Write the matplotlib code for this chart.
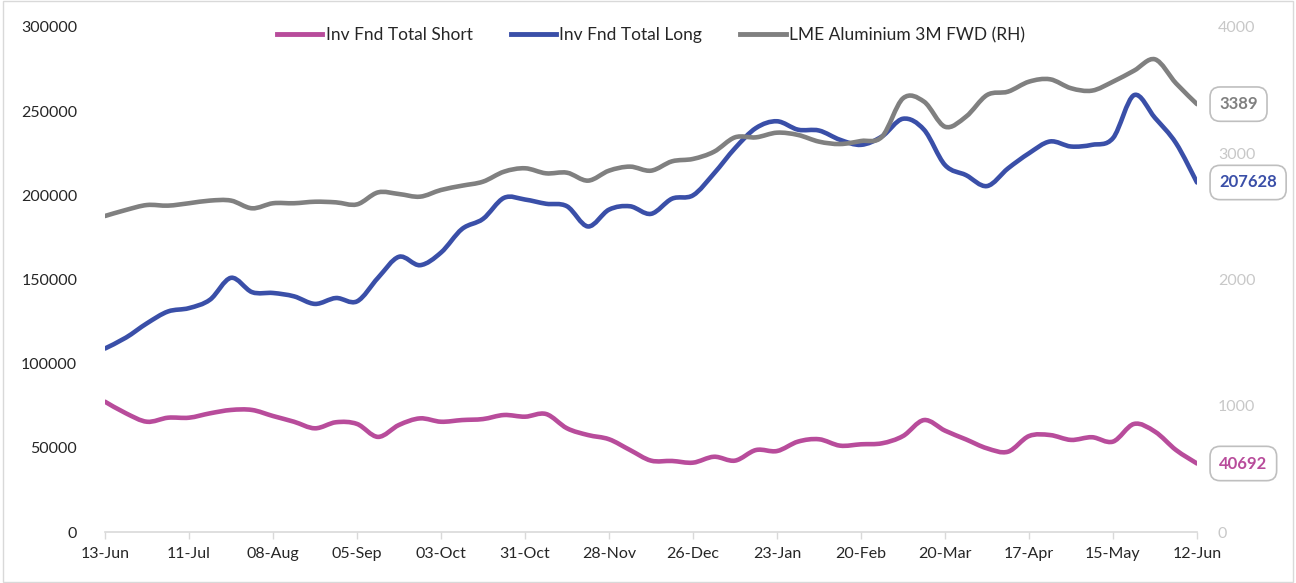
import numpy as np
import matplotlib
matplotlib.use("Agg")
import matplotlib.pyplot as plt
from matplotlib.path import Path
from matplotlib.patches import PathPatch, Rectangle
from matplotlib.lines import Line2D

plt.rcParams['font.family'] = ['Lato', 'DejaVu Sans']

tick_labels = ["13-Jun", "11-Jul", "08-Aug", "05-Sep", "03-Oct", "31-Oct", "28-Nov",
               "26-Dec", "23-Jan", "20-Feb", "20-Mar", "17-Apr", "15-May", "12-Jun"]

inv_long = [109000, 115500, 124000, 131000, 133000, 138000, 151000, 142500, 142000, 140000,
            135500, 139000, 137000, 151000, 163500, 158500, 166000, 180000, 186000, 198500,
            197500, 195000, 193500, 181500, 191500, 193500, 189000, 198000, 200000, 213000,
            228000, 240000, 244000, 239000, 238500, 233000, 230000, 235000, 245500, 239000,
            218000, 212000, 205500, 216000, 225000, 232000, 229000, 230000, 234000, 259500,
            246000, 231000, 207628]

inv_short = [77400, 70500, 65500, 67900, 67900, 70500, 72500, 72500, 68900, 65500,
             61600, 65200, 64200, 56500, 63600, 67500, 65500, 66500, 67100, 69500,
             68500, 70100, 61600, 57600, 55100, 48700, 42400, 42200, 41200, 44700,
             42400, 48700, 48100, 53700, 55100, 51300, 52100, 52700, 57000, 66500,
             60200, 55000, 49700, 47700, 57000, 57600, 54700, 56300, 53700, 64200,
             59600, 48700, 40692]

lme_alu = [2503, 2551, 2590, 2585, 2604, 2625, 2625, 2564, 2604, 2604,
           2616, 2611, 2595, 2690, 2677, 2656, 2709, 2743, 2775, 2854,
           2881, 2841, 2846, 2783, 2862, 2894, 2862, 2936, 2955, 3012,
           3126, 3126, 3163, 3145, 3092, 3073, 3097, 3131, 3435, 3409,
           3210, 3290, 3461, 3488, 3567, 3586, 3515, 3496, 3567, 3654,
           3744, 3554, 3389]

C_SHORT = '#B84C9B'
C_LONG = '#3A4FA8'
C_LME = '#808080'


def smooth_path(xs, ys):
    xs = np.asarray(xs, float)
    ys = np.asarray(ys, float)
    n = len(xs)
    verts = [(xs[0], ys[0])]
    codes = [Path.MOVETO]
    for i in range(n - 1):
        p0 = np.array([xs[max(i - 1, 0)], ys[max(i - 1, 0)]])
        p1 = np.array([xs[i], ys[i]])
        p2 = np.array([xs[i + 1], ys[i + 1]])
        p3 = np.array([xs[min(i + 2, n - 1)], ys[min(i + 2, n - 1)]])
        c1 = p1 + (p2 - p0) / 6.0
        c2 = p2 - (p3 - p1) / 6.0
        verts += [tuple(c1), tuple(c2), tuple(p2)]
        codes += [Path.CURVE4] * 3
    return Path(verts, codes)


fig = plt.figure(figsize=(12.96, 5.83), dpi=100)
ax = fig.add_axes([105 / 1296, 1 - 532 / 583, 1092 / 1296, 505 / 583])
ax2 = ax.twinx()

x = np.arange(len(inv_long))
LW = 3.3

ax.add_patch(PathPatch(smooth_path(x, inv_short), fill=False, edgecolor=C_SHORT,
                       lw=LW, capstyle='round', joinstyle='round', zorder=3))
ax.add_patch(PathPatch(smooth_path(x, inv_long), fill=False, edgecolor=C_LONG,
                       lw=LW, capstyle='round', joinstyle='round', zorder=3))
ax2.add_patch(PathPatch(smooth_path(x, lme_alu), fill=False, edgecolor=C_LME,
                        lw=LW, capstyle='round', joinstyle='round', zorder=3))

ax.set_xlim(0, len(x) - 1)
ax.set_ylim(0, 300000)
ax2.set_ylim(0, 4000)

ax.set_yticks(np.arange(0, 300001, 50000))
ax2.set_yticks(np.arange(0, 4001, 1000))
ax.set_xticks(np.arange(0, len(x), 4))
ax.set_xticklabels(tick_labels)

for a in (ax, ax2):
    for s in a.spines.values():
        s.set_visible(False)
ax.spines['bottom'].set_visible(True)
ax.spines['bottom'].set_color('#D9D9D9')
ax.spines['bottom'].set_linewidth(1.2)

ax.tick_params(axis='y', length=0, pad=20, labelsize=11.5, labelcolor='#262626')
ax.tick_params(axis='x', length=5, width=1, color='#D9D9D9', pad=6, labelsize=11.5,
               labelcolor='#262626')
ax2.tick_params(axis='y', length=0, pad=15, labelsize=11.5, labelcolor='#C8C8C8')

# end-of-line labels
box = dict(boxstyle='round,pad=0.55,rounding_size=0.6', fc='white', ec='#BFBFBF', lw=1.2)
ax.annotate(f"{inv_long[-1]}", (x[-1], inv_long[-1]), xytext=(16, 0),
            textcoords='offset points', ha='left', va='center', fontsize=12,
            fontweight='bold', color=C_LONG, bbox=box, annotation_clip=False)
ax.annotate(f"{inv_short[-1]}", (x[-1], inv_short[-1]), xytext=(16, 0),
            textcoords='offset points', ha='left', va='center', fontsize=12,
            fontweight='bold', color=C_SHORT, bbox=box, annotation_clip=False)
ax2.annotate(f"{lme_alu[-1]}", (x[-1], lme_alu[-1]), xytext=(16, 0),
             textcoords='offset points', ha='left', va='center', fontsize=12,
             fontweight='bold', color=C_LME, bbox=box, annotation_clip=False)

handles = [Line2D([], [], color=C_SHORT, lw=3.5),
           Line2D([], [], color=C_LONG, lw=3.5),
           Line2D([], [], color=C_LME, lw=3.5)]
labels = ["Inv Fnd Total Short", "Inv Fnd Total Long", "LME Aluminium 3M FWD (RH)"]
leg = ax.legend(handles, labels, loc='center', bbox_to_anchor=(0.5, 0.984), ncol=3,
                frameon=False, fontsize=12.5, handlelength=2.6, handletextpad=0.2,
                columnspacing=2.2)
for t in leg.get_texts():
    t.set_color('#262626')

fig.patches.append(Rectangle((0.002, 0.002), 0.996, 0.996, transform=fig.transFigure,
                             fill=False, ec='#D9D9D9', lw=1.0))

fig.savefig("out.png", dpi=100)
